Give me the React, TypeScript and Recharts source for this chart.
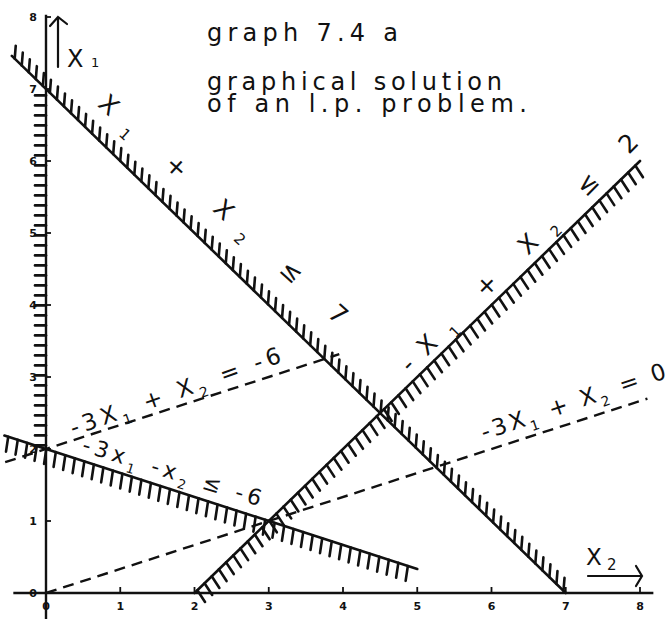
import React from 'react';
import { ComposedChart, XAxis, YAxis, ReferenceLine, ReferenceDot } from 'recharts';

// Axis ticks (x2 horizontal, x1 vertical)
const x2Ticks = [0, 1, 2, 3, 4, 5, 6, 7, 8];
const x1Ticks = [0, 1, 2, 3, 4, 5, 6, 7, 8];

// Constraint boundaries, endpoints given as (x2, x1)
const boundSum = [{ x: -0.46, y: 7.46 }, { x: 7, y: 0 }]; //  x1 + x2 = 7
const boundDiff = [{ x: 2, y: 0 }, { x: 8, y: 6 }]; // -x1 + x2 = 2
const boundThree = [{ x: -0.56, y: 2.187 }, { x: 5, y: 0.333 }]; // -3x1 - x2 = -6
const boundAxis = [{ x: 0, y: 2.05 }, { x: 0, y: 7.0 }]; // x2 >= 0

// Objective iso-lines
const isoMinus6 = [{ x: -0.55, y: 1.817 }, { x: 3.95, y: 3.317 }]; // -3x1 + x2 = -6
const isoZero = [{ x: 0, y: 0 }, { x: 8.1, y: 2.7 }]; // -3x1 + x2 = 0

// Axis extents
const x2AxisEnds = [{ x: -0.44, y: 0 }, { x: 8.18, y: 0 }];
const x1AxisEnds = [{ x: 0, y: -0.36 }, { x: 0, y: 8.03 }];

// Equation labels and their anchor points (x2, x1)
const eqSum = 'X_1 + X_2 ≤ 7';
const eqDiff = '-X_1 + X_2 ≤ 2';
const eqThree = '-3x_1 -x_2 ≤ -6';
const eqIsoMinus6 = '-3X_1 + X_2 = -6';
const eqIsoZero = '-3X_1 + X_2 = 0';
const anchorSum = { x: 2.39, y: 5.33 };
const anchorDiff = { x: 6.37, y: 4.73 };
const anchorThree = { x: 1.7, y: 1.69 };
const anchorIsoMinus6 = { x: 1.74, y: 2.8 };
const anchorIsoZero = { x: 7.1, y: 2.66 };

const INK = '#111';
const FONT = 'DejaVu Sans, sans-serif';

type HatchOpts = { gap: number; len: number; dir: [number, number]; start?: number; line?: boolean };

// Draws a segment with short hatch strokes on its excluded side
function hatched(opts: HatchOpts) {
  return (p: any) => {
    const { x1, y1, x2, y2 } = p;
    const dx = x2 - x1;
    const dy = y2 - y1;
    const L = Math.hypot(dx, dy);
    const ux = dx / L;
    const uy = dy / L;
    const hn = Math.hypot(opts.dir[0], opts.dir[1]);
    const ex = (opts.dir[0] / hn) * opts.len;
    const ey = (opts.dir[1] / hn) * opts.len;
    const marks: React.ReactNode[] = [];
    for (let t = opts.start ?? 3; t <= L - 0.5; t += opts.gap) {
      const px = x1 + ux * t;
      const py = y1 + uy * t;
      marks.push(<line key={t} x1={px} y1={py} x2={px + ex} y2={py + ey} />);
    }
    return (
      <g stroke={INK} strokeWidth={2.6} strokeLinecap="round" fill="none">
        {opts.line !== false && <line x1={x1} y1={y1} x2={x2} y2={y2} />}
        {marks}
      </g>
    );
  };
}

function richText(s: string, size: number) {
  const parts = s.split(/_(\d)/);
  const shift = size * 0.3;
  return parts.map((part, i) =>
    i % 2 === 1 ? (
      <tspan key={i} dy={shift} fontSize={size * 0.6}>
        {part}
      </tspan>
    ) : (
      <tspan key={i} dy={i === 0 ? 0 : -shift} fontSize={size}>
        {part}
      </tspan>
    )
  );
}

// Text written along a line
function slanted(text: string, angle: number, size: number, length: number) {
  return (p: any) => {
    const { cx, cy } = p;
    return (
      <text
        x={cx}
        y={cy + size * 0.35}
        transform={`rotate(${angle} ${cx} ${cy})`}
        textAnchor="middle"
        fontFamily={FONT}
        fontSize={size}
        fill={INK}
        textLength={length}
        lengthAdjust="spacing"
      >
        {richText(text, size)}
      </text>
    );
  };
}

const XTick = (p: any) => {
  const { x, y, payload } = p;
  return (
    <g>
      <line x1={x} y1={y} x2={x} y2={y - 6} stroke={INK} strokeWidth={1.8} />
      <text x={x} y={y + 17} textAnchor="middle" fontFamily={FONT} fontWeight="bold" fontSize={11} fill={INK}>
        {payload.value}
      </text>
    </g>
  );
};

const YTick = (p: any) => {
  const { x, y, payload } = p;
  return (
    <g>
      <line x1={x} y1={y} x2={x + 5} y2={y} stroke={INK} strokeWidth={1.8} />
      <text x={x - 13} y={y + 4} textAnchor="middle" fontFamily={FONT} fontWeight="bold" fontSize={11} fill={INK}>
        {payload.value}
      </text>
    </g>
  );
};

export default function App() {
  return (
    <div style={{ position: 'absolute', left: 0, top: 0, background: '#fff' }}>
      <ComposedChart width={671} height={619} data={[]} margin={{ top: 17, right: 31, bottom: 0, left: 0 }}>
        <XAxis
          type="number"
          dataKey="x"
          domain={[0, 8]}
          ticks={x2Ticks}
          interval={0}
          allowDataOverflow
          height={26}
          axisLine={false}
          tickLine={false}
          tickSize={0}
          tickMargin={0}
          tick={XTick}
        />
        <YAxis
          type="number"
          domain={[0, 8]}
          ticks={x1Ticks}
          interval={0}
          allowDataOverflow
          width={46}
          axisLine={false}
          tickLine={false}
          tickSize={0}
          tickMargin={0}
          tick={YTick}
        />

        {/* axes */}
        <ReferenceLine segment={x2AxisEnds} ifOverflow="visible" stroke={INK} strokeWidth={2.4} />
        <ReferenceLine segment={x1AxisEnds} ifOverflow="visible" stroke={INK} strokeWidth={2.4} />

        {/* objective iso-lines */}
        <ReferenceLine segment={isoMinus6} ifOverflow="visible" stroke={INK} strokeWidth={2.4} strokeDasharray="11 7" />
        <ReferenceLine segment={isoZero} ifOverflow="visible" stroke={INK} strokeWidth={2.4} strokeDasharray="11 7" />

        {/* constraints */}
        <ReferenceLine segment={boundAxis} ifOverflow="visible" shape={hatched({ gap: 10, len: 11, dir: [-1, 0], start: 0, line: false })} />
        <ReferenceLine segment={boundSum} ifOverflow="visible" shape={hatched({ gap: 9.8, len: 13, dir: [0.08, -1], start: 4 })} />
        <ReferenceLine segment={boundDiff} ifOverflow="visible" shape={hatched({ gap: 10, len: 14, dir: [0.55, 0.84], start: 4 })} />
        <ReferenceLine segment={boundThree} ifOverflow="visible" shape={hatched({ gap: 10, len: 15, dir: [-0.15, 1], start: 4 })} />

        {/* equation labels */}
        <ReferenceDot x={anchorSum.x} y={anchorSum.y} r={0} ifOverflow="visible" shape={slanted(eqSum, 42.4, 25, 327)} />
        <ReferenceDot x={anchorDiff.x} y={anchorDiff.y} r={0} ifOverflow="visible" shape={slanted(eqDiff, -45, 25, 325)} />
        <ReferenceDot x={anchorThree.x} y={anchorThree.y} r={0} ifOverflow="visible" shape={slanted(eqThree, 17.2, 22, 186)} />
        <ReferenceDot x={anchorIsoMinus6.x} y={anchorIsoMinus6.y} r={0} ifOverflow="visible" shape={slanted(eqIsoMinus6, -19.5, 23, 222)} />
        <ReferenceDot x={anchorIsoZero.x} y={anchorIsoZero.y} r={0} ifOverflow="visible" shape={slanted(eqIsoZero, -18.8, 23, 194)} />

        {/* titles */}
        <text x={207} y={41} fontFamily={FONT} fontSize={24} fill={INK} textLength={191} lengthAdjust="spacing">
          graph 7.4 a
        </text>
        <text x={207} y={90} fontFamily={FONT} fontSize={24} fill={INK} textLength={295} lengthAdjust="spacing">
          graphical solution
        </text>
        <text x={207} y={112} fontFamily={FONT} fontSize={24} fill={INK} textLength={320} lengthAdjust="spacing">
          of an l.p. problem.
        </text>

        {/* axis names */}
        <g stroke={INK} strokeWidth={2.2} fill="none" strokeLinecap="round">
          <path d="M58 67 V17 M50 26 L58 17 L67 24" />
          <path d="M588 576 H642 M636 566 L642 576 L636 586" />
        </g>
        <text x={67} y={67} fontFamily={FONT} fontSize={24} fill={INK}>
          X<tspan x={91} fontSize={13}>1</tspan>
        </text>
        <text x={586} y={565} fontFamily={FONT} fontSize={23} fill={INK}>
          X<tspan x={607} dy={5} fontSize={15}>2</tspan>
        </text>
      </ComposedChart>
    </div>
  );
}
